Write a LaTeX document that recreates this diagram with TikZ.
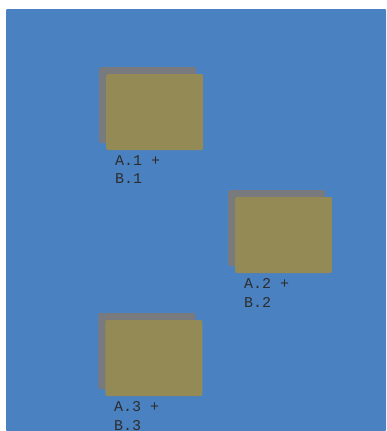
\documentclass[tikz,border=0pt]{standalone}
\usepackage{fontspec}
\setmonofont{Liberation Mono}
\usepackage{tikz}
\usetikzlibrary{positioning}
\definecolor{bgblue}{RGB}{74,129,192}
\definecolor{cardgold}{RGB}{147,138,85}
\definecolor{cardgrey}{RGB}{121,122,126}
\definecolor{labelgrey}{RGB}{45,45,45}

\begin{document}
\begin{tikzpicture}[x=1pt, y=-1pt,
  card/.style={fill=cardgold, rounded corners=2pt, minimum width=97pt, minimum height=76pt, inner sep=0pt},
  cardback/.style={fill=cardgrey, rounded corners=2pt, minimum width=97pt, minimum height=76pt, inner sep=0pt},
  cardlabel/.style={text=labelgrey, font=\ttfamily\fontsize{15}{18.3}\selectfont, align=left, inner sep=0pt}]
  \useasboundingbox (0,0) rectangle (386,431);
  % Background panel
  \fill[bgblue, rounded corners=1pt] (6,9) rectangle (386,431);
  % Card 1 -- top left
  \node[cardback] (back1) at (147.7,105) {};
  \node[card] (front1) at (154.7,112) {};
  \node[cardlabel, below right=5.3pt and 8.8pt of front1.south west] (label1) {A.1 +\\B.1};
  % Card 2 -- middle right
  \node[cardback] (back2) at (276.7,228) {};
  \node[card] (front2) at (283.7,235) {};
  \node[cardlabel, below right=5.3pt and 8.8pt of front2.south west] (label2) {A.2 +\\B.2};
  % Card 3 -- bottom left
  \node[cardback] (back3) at (146.8,351) {};
  \node[card] (front3) at (153.8,358) {};
  \node[cardlabel, below right=5.3pt and 8.8pt of front3.south west] (label3) {A.3 +\\B.3};
\end{tikzpicture}
\end{document}
